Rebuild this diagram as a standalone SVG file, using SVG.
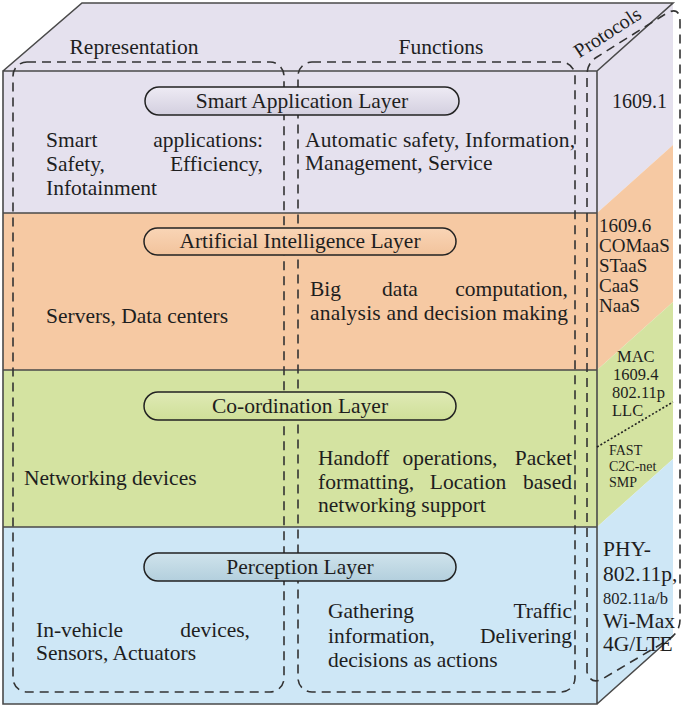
<svg xmlns="http://www.w3.org/2000/svg" width="684" height="707" viewBox="0 0 684 707">
<defs>
<style>
text{font-family:"Liberation Serif","Times New Roman",serif;fill:#1e1e1e;font-size:21.5px}
.edge{fill:none;stroke:#4a4a4a;stroke-width:1.6}
.dash{fill:none;stroke:#333;stroke-width:1.6;stroke-dasharray:9 6}
.pill{stroke:#222;stroke-width:1.5}
.mid{text-anchor:middle}
.end{text-anchor:end}
.p{font-size:20px}
.pm{font-size:19px}
.ps{font-size:16.5px}
.pt{font-size:14px}
</style>
<linearGradient id="gp" x1="0" y1="0" x2="0" y2="1"><stop offset="0" stop-color="#eeebf4"/><stop offset="1" stop-color="#d3cfdf"/></linearGradient>
<linearGradient id="go" x1="0" y1="0" x2="0" y2="1"><stop offset="0" stop-color="#f9d5b6"/><stop offset="1" stop-color="#f2c39c"/></linearGradient>
<linearGradient id="gg" x1="0" y1="0" x2="0" y2="1"><stop offset="0" stop-color="#dfeab5"/><stop offset="1" stop-color="#cfdf98"/></linearGradient>
<linearGradient id="gb" x1="0" y1="0" x2="0" y2="1"><stop offset="0" stop-color="#cfe3ec"/><stop offset="1" stop-color="#b3cfdd"/></linearGradient>
</defs>

<g id="cube">
<polygon points="3,71 82,3 673,3 597,71" fill="#e5e1ee"/>
<rect x="3" y="71" width="594" height="142" fill="#e5e1ee"/>
<rect x="3" y="213" width="594" height="157" fill="#f6c9a3"/>
<rect x="3" y="370" width="594" height="157" fill="#d4e3a1"/>
<rect x="3" y="527" width="594" height="177" fill="#cee7f6"/>
<polygon points="597,71 673,3 673,145 597,213" fill="#e5e1ee"/>
<polygon points="597,213 673,145 673,302 597,370" fill="#f6c9a3"/>
<polygon points="597,370 673,302 673,459 597,527" fill="#d4e3a1"/>
<polygon points="597,527 673,459 673,636 597,704" fill="#cee7f6"/>
<path class="edge" d="M3,71 L82,3 L673,3 L597,71 M3,71 H597 V704 H3 Z M597,704 L673,636 M3,213 H597 M3,370 H597 M3,527 H597"/>
</g>

<g id="columns">
<rect class="dash" x="13" y="62" width="271" height="630" rx="14"/>
<rect class="dash" x="298" y="62" width="277" height="630" rx="14"/>
<path class="dash" d="M587,672 L587,75 Q587,63 597,57 L667,13 Q680,6 680,22 L680,620 Q680,632 668,640 L604,678 Q591,686 587,672 Z"/>
<text class="mid" x="134" y="54">Representation</text>
<text class="mid" x="441" y="54">Functions</text>
<text class="p mid" transform="translate(611,38) rotate(-33)">Protocols</text>
</g>

<g id="smart-application-layer">
<rect class="pill" x="145" y="87" width="314" height="28" rx="14" fill="url(#gp)"/>
<text class="mid" x="302" y="108">Smart Application Layer</text>
<text x="46" y="147">Smart</text><text class="end" x="263" y="147">applications:</text>
<text x="46" y="171">Safety,</text><text class="end" x="263" y="171">Efficiency,</text>
<text x="46" y="195">Infotainment</text>
<text x="305" y="147" textLength="270">Automatic safety, Information,</text>
<text x="305" y="170">Management, Service</text>
<text class="p" x="612" y="108">1609.1</text>
</g>

<g id="artificial-intelligence-layer">
<rect class="pill" x="144" y="228" width="312" height="27" rx="13.5" fill="url(#go)"/>
<text class="mid" x="300" y="248">Artificial Intelligence Layer</text>
<text x="46" y="323">Servers, Data centers</text>
<text x="310" y="296">Big</text><text class="mid" x="400" y="296">data</text><text class="end" x="568" y="296">computation,</text>
<text x="310" y="320" textLength="258">analysis and decision making</text>
<text class="pm" x="599" y="232">1609.6</text>
<text class="pm" x="599" y="252">COMaaS</text>
<text class="pm" x="599" y="272">STaaS</text>
<text class="pm" x="599" y="292">CaaS</text>
<text class="pm" x="599" y="312">NaaS</text>
</g>

<g id="co-ordination-layer">
<rect class="pill" x="144" y="392" width="312" height="28" rx="14" fill="url(#gg)"/>
<text class="mid" x="300" y="413">Co-ordination Layer</text>
<text x="24" y="485">Networking devices</text>
<text x="318" y="465">Handoff</text><text class="mid" x="450" y="465">operations,</text><text class="end" x="572" y="465">Packet</text>
<text x="318" y="489">formatting,</text><text class="mid" x="468" y="489">Location</text><text class="end" x="572" y="489">based</text>
<text x="318" y="512">networking support</text>
<text class="ps" x="617" y="362">MAC</text>
<text class="ps" x="613" y="380">1609.4</text>
<text class="ps" x="612" y="398">802.11p</text>
<text class="ps" x="612" y="416">LLC</text>
<line x1="597" y1="447" x2="673" y2="402" stroke="#222" stroke-width="1.6" stroke-dasharray="2 2"/>
<text class="pt" x="609" y="455">FAST</text>
<text class="pt" x="609" y="471">C2C-net</text>
<text class="pt" x="609" y="487">SMP</text>
</g>

<g id="perception-layer">
<rect class="pill" x="144" y="553" width="312" height="28" rx="14" fill="url(#gb)"/>
<text class="mid" x="300" y="574">Perception Layer</text>
<text x="36" y="637">In-vehicle</text><text class="end" x="250" y="637">devices,</text>
<text x="36" y="660">Sensors, Actuators</text>
<text x="328" y="618">Gathering</text><text class="end" x="572" y="618">Traffic</text>
<text x="328" y="643">information,</text><text class="end" x="572" y="643">Delivering</text>
<text x="328" y="667">decisions as actions</text>
<text x="603" y="556">PHY-</text>
<text x="603" y="581">802.11p,</text>
<text class="ps" x="603" y="604">802.11a/b</text>
<text x="603" y="628">Wi-Max</text>
<text x="603" y="651">4G/LTE</text>
</g>
</svg>
